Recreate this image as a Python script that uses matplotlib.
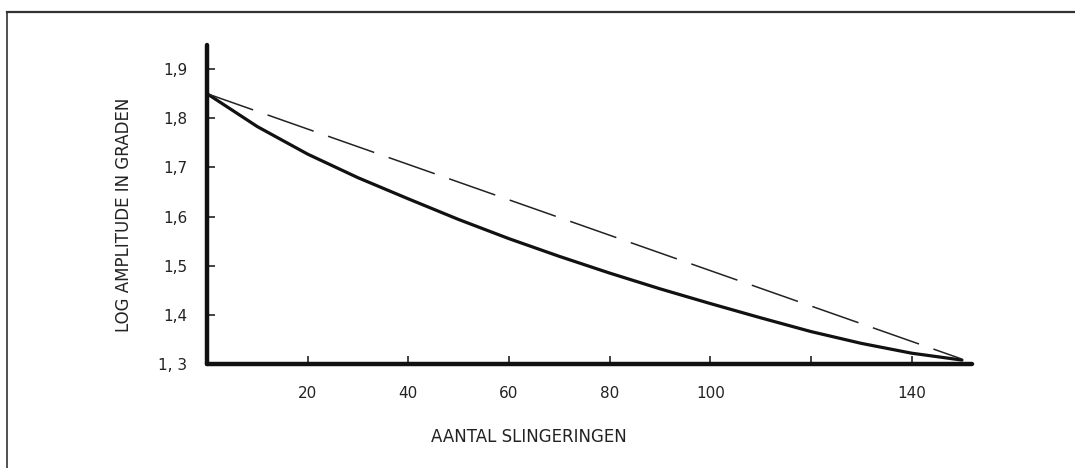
import matplotlib.pyplot as plt
from matplotlib.lines import Line2D

# Data
slingeringen = [0, 10, 20, 30, 40, 50, 60, 70, 80, 90, 100, 110, 120, 130, 140, 150]
log_amplitude = [1.850, 1.783, 1.727, 1.679, 1.636, 1.594, 1.555, 1.519, 1.485,
                 1.453, 1.423, 1.394, 1.366, 1.342, 1.322, 1.308]
rechte_x = [0, 150]
rechte_y = [1.85, 1.31]

x_ticks = [20, 40, 60, 80, 100, 120, 140]
x_labels = ['20', '40', '60', '80', '100', '', '140']
y_ticks = [1.3, 1.4, 1.5, 1.6, 1.7, 1.8, 1.9]
y_labels = ['1, 3', '1,4', '1,5', '1,6', '1,7', '1,8', '1,9']

plt.rcParams['font.family'] = ['Liberation Sans Narrow', 'DejaVu Sans']

fig = plt.figure(figsize=(10.75, 4.68), dpi=100)
ax = fig.add_axes([207/1075, 1 - 364/468, (972 - 207)/1075, (364 - 45)/468])

ax.plot(slingeringen, log_amplitude, color='#111111', lw=2.3,
        solid_capstyle='round', solid_joinstyle='round')
ax.plot(rechte_x, rechte_y, color='#222222', lw=1.1, dashes=(32, 10))

ax.set_xlim(0, 152)
ax.set_ylim(1.3, 1.949)

for s in ['top', 'right']:
    ax.spines[s].set_visible(False)
for s in ['left', 'bottom']:
    ax.spines[s].set_linewidth(3.2)
    ax.spines[s].set_color('#111111')
    ax.spines[s].set_capstyle('round')

ax.set_xticks(x_ticks)
ax.set_xticklabels(x_labels)
ax.set_yticks(y_ticks)
ax.set_yticklabels(y_labels)
ax.tick_params(axis='both', direction='in', length=6, width=1.2, color='#222222',
               labelsize=11, labelcolor='#222222')
ax.tick_params(axis='y', pad=14)
ax.tick_params(axis='x', pad=16)

ax.set_xlabel('AANTAL SLINGERINGEN', fontsize=12, color='#222222')
ax.xaxis.set_label_coords(0.421, -0.20)
ax.set_ylabel('LOG AMPLITUDE IN GRADEN', fontsize=12, color='#222222')
ax.yaxis.set_label_coords(-0.097, 0.467)

# frame of the scanned figure
fig.add_artist(Line2D([7/1075, 1], [1 - 12/468, 1 - 12/468], transform=fig.transFigure,
                      color='#333333', lw=1.6))
fig.add_artist(Line2D([7/1075, 7/1075], [0, 1 - 12/468], transform=fig.transFigure,
                      color='#333333', lw=1.2))

fig.savefig('out.png', dpi=100)
